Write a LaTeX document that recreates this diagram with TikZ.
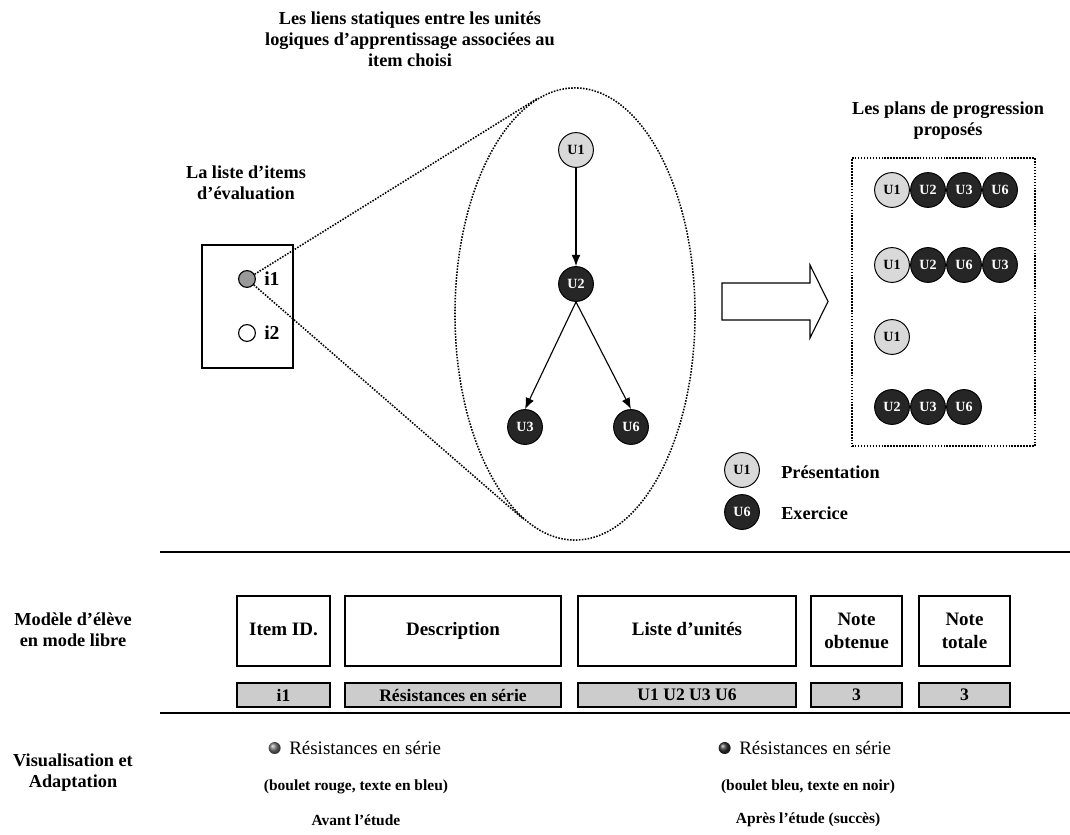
\documentclass[tikz,border=0pt]{standalone}
\usepackage{fontspec}
\setmainfont{Liberation Serif}
\usetikzlibrary{arrows.meta,positioning,shapes.geometric}

\begin{document}
\begin{tikzpicture}[x=0.025cm,y=-0.025cm,
    font=\fontsize{13}{15}\selectfont\bfseries, line width=0.8pt,
    unit/.style={circle,draw,line width=0.7pt,minimum size=0.87cm,inner sep=0pt,
        font=\fontsize{10}{11}\selectfont\bfseries},
    pres/.style={unit,fill=black!15},
    exer/.style={unit,fill=black!85,text=white},
    link/.style={-{Latex[length=2.8mm,width=2.2mm]},line width=0.8pt},
    head/.style={draw,minimum height=1.75cm,align=center,inner sep=2pt,
        font=\fontsize{13.5}{16}\selectfont\bfseries},
    cell/.style={draw,fill=black!20,minimum height=0.6cm,inner sep=1pt,
        font=\fontsize{12.5}{14}\selectfont\bfseries},
    title/.style={align=center},
    note/.style={font=\fontsize{11}{14}\selectfont\bfseries},
    dots/.style={draw,densely dotted,line width=1.1pt},
    ball/.style={circle,inner sep=0pt,minimum size=0.3cm}
]
\useasboundingbox (0,0) rectangle (1070,834);

% graph of the chosen item
\node[title] (linkttl) at (410,39) {Les liens statiques entre les unités\\logiques d'apprentissage associées au\\item choisi};
\node[ellipse,dots,minimum width=6cm,minimum height=11.3cm,inner sep=0pt] (ell) at (575,314) {};
\node[pres] (u1) at (576,150) {U1};
\node[exer] (u2) at (576,284) {U2};
\node[exer] (u3) at (525,427) {U3};
\node[exer] (u6) at (631,427) {U6};
\draw[link] (u1) -- (u2);
\draw[link] (u2.south) -- (u3.north);
\draw[link] (u2.south) -- (u6.north);

% item list
\node[title] (listttl) at (246,183) {La liste d'items\\d'évaluation};
\node[draw,minimum width=2.275cm,minimum height=3.075cm] (items) at (247.5,306.5) {};
\node[circle,draw,fill=black!40,minimum size=0.42cm,inner sep=0pt] (i1) at (247,279) {};
\node[circle,draw,minimum size=0.42cm,inner sep=0pt] (i2) at (247,333) {};
\node[anchor=west,font=\fontsize{14}{16}\selectfont\bfseries] (i1txt) at (259,279) {i1};
\node[anchor=west,font=\fontsize{14}{16}\selectfont\bfseries] (i2txt) at (259,333) {i2};
\draw[dots] (i1) -- (ell.100);
\draw[dots] (i1) -- (ell.256);

\draw (722,283) -- (810,283) -- (810,265) -- (828,301.5) -- (810,338) -- (810,320) -- (722,320) -- cycle;

% proposed plans
\node[title] (plansttl) at (948,121) {Les plans de progression\\proposés};
\node[dots,minimum width=4.575cm,minimum height=7.2cm] (plans) at (943.5,302) {};
\foreach \t/\s [count=\i] in {U1/pres,U2/exer,U3/exer,U6/exer}
    \node[\s] (pa\i) at (856+36*\i,190) {\t};
\foreach \t/\s [count=\i] in {U1/pres,U2/exer,U6/exer,U3/exer}
    \node[\s] (pb\i) at (856+36*\i,265) {\t};
\node[pres] (pc1) at (892,337) {U1};
\foreach \t [count=\i] in {U2,U3,U6}
    \node[exer] (pd\i) at (856+36*\i,407) {\t};

% legend
\node[pres] (lgp) at (742,470) {U1};
\node[anchor=west] (lgptxt) at (776,472) {Présentation};
\node[exer] (lge) at (742,512) {U6};
\node[anchor=west] (lgetxt) at (776,513) {Exercice};

\draw[line width=1.2pt] (160,552) -- (1070,552);
\draw[line width=1.2pt] (160,713) -- (1070,713);

% student model
\node[title] (model) at (73,630) {Modèle d'élève\\en mode libre};
\foreach \n/\x/\w/\t in {id/283.5/2.325/Item ID.\strut,desc/453/5.4/Description\strut,
        list/687/5.45/Liste d'unités\strut,got/856.5/2.275/{Note\\obtenue},tot/964.5/2.275/{Note\\totale}}
    \node[head,minimum width=\w cm] (h\n) at (\x,631) {\t};
\foreach \n/\x/\w/\t in {id/283.5/2.325/i1,desc/453/5.4/Résistances en série,
        list/687/5.45/U1 U2 U3 U6,got/856.5/2.275/3,tot/964.5/2.275/3}
    \node[cell,minimum width=\w cm] (v\n) at (\x,695) {\t};

% display
\node[title] (visu) at (73,773) {Visualisation et\\Adaptation};
\node[anchor=west,font=\fontsize{13.5}{16}\selectfont] (lres) at (284,748) {Résistances en série};
\node[ball,ball color=black!55,left=2pt of lres] (lball) {};
\node[note] (lnote) at (356,787) {(boulet rouge, texte en bleu)};
\node[note] (lwhen) at (356,820) {Avant l'étude};
\node[anchor=west,font=\fontsize{13.5}{16}\selectfont] (rres) at (734,748) {Résistances en série};
\node[ball,ball color=black!80,left=2pt of rres] (rball) {};
\node[note] (rnote) at (808,787) {(boulet bleu, texte en noir)};
\node[note] (rwhen) at (808,820) {Après l'étude (succès)};
\end{tikzpicture}
\end{document}
